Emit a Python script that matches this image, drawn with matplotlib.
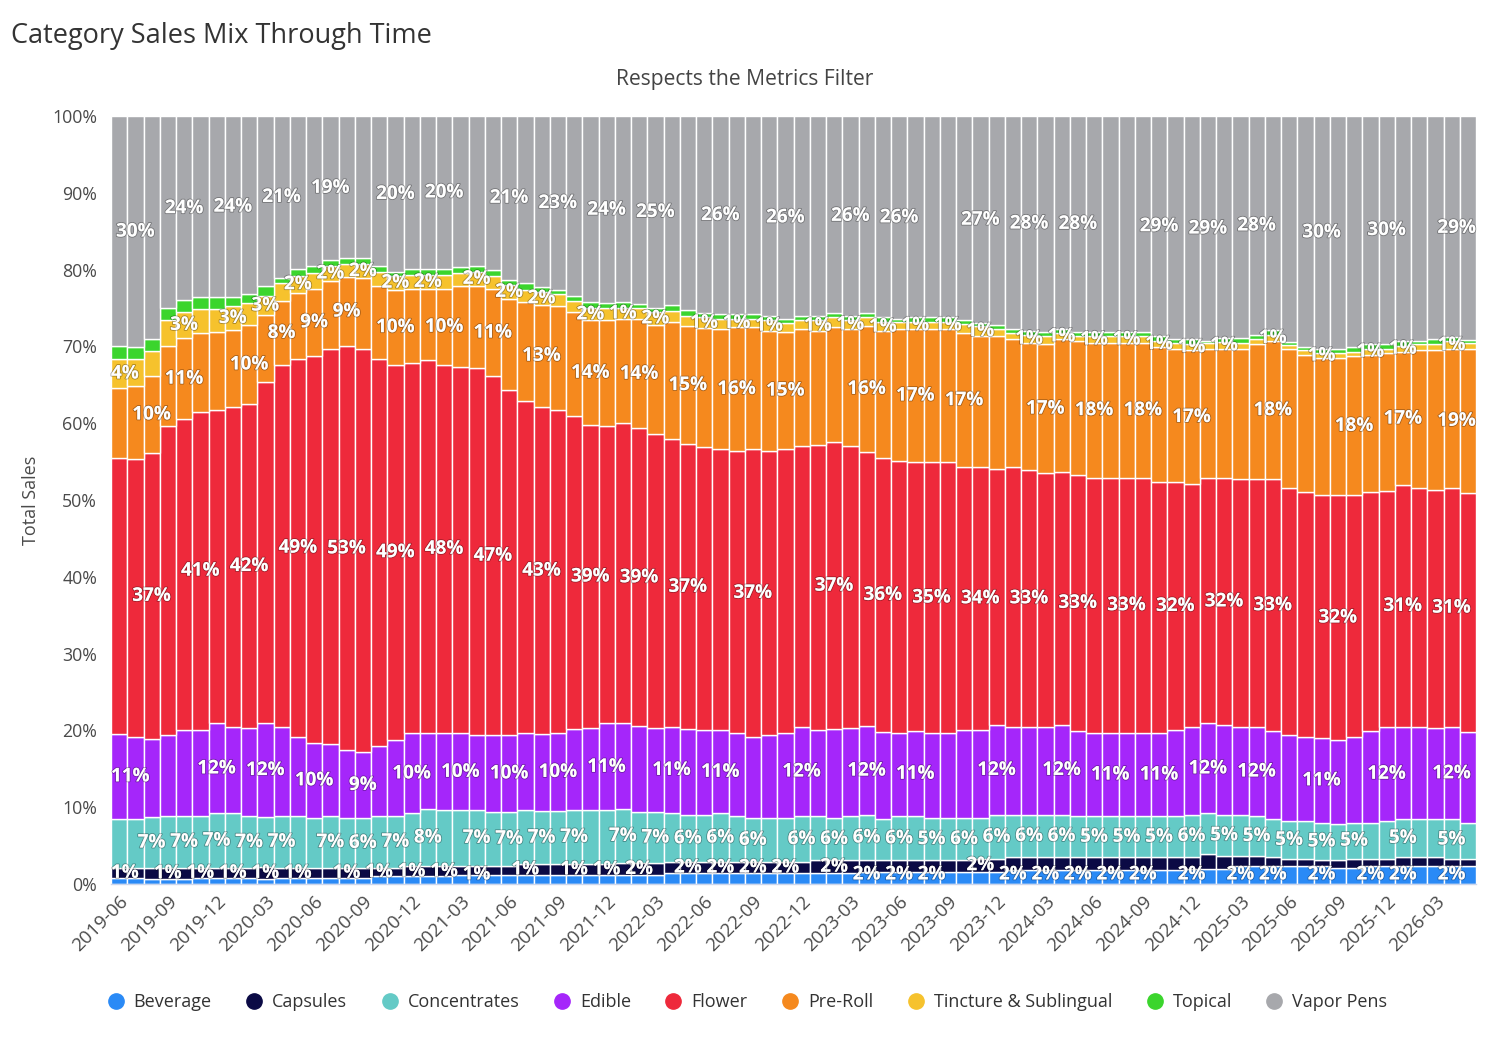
import numpy as np
import pandas as pd
import matplotlib
matplotlib.use("Agg")
import matplotlib.pyplot as plt
import matplotlib.patheffects as pe
from matplotlib.lines import Line2D

plt.rcParams['font.family'] = ['Open Sans', 'DejaVu Sans']

months = pd.period_range('2019-06', periods=84, freq='M').strftime('%Y-%m').tolist()

beverage = [
    0.8, 0.8, 0.7, 0.7, 0.7, 0.8, 0.8, 0.8, 0.8, 0.7,
    0.8, 0.8, 0.8, 0.8, 0.8, 0.8, 1.0, 1.0, 1.0, 1.0,
    1.0, 1.2, 1.2, 1.2, 1.2, 1.2, 1.2, 1.2, 1.2, 1.2,
    1.2, 1.2, 1.2, 1.2, 1.4, 1.4, 1.4, 1.4, 1.4, 1.4,
    1.4, 1.4, 1.4, 1.4, 1.4, 1.4, 1.6, 1.6, 1.6, 1.6,
    1.6, 1.6, 1.6, 1.6, 1.6, 1.8, 1.8, 1.8, 1.8, 1.8,
    1.8, 1.8, 1.8, 1.8, 1.8, 1.8, 2.0, 2.0, 2.0, 2.3,
    2.3, 2.3, 2.3, 2.3, 2.3, 2.1, 2.1, 2.3, 2.3, 2.4,
    2.4, 2.4, 2.4, 2.4]
capsules = [
    1.3, 1.3, 1.4, 1.4, 1.4, 1.3, 1.3, 1.3, 1.3, 1.5,
    1.3, 1.3, 1.3, 1.3, 1.3, 1.3, 1.1, 1.1, 1.3, 1.3,
    1.3, 1.2, 1.2, 1.2, 1.2, 1.4, 1.4, 1.4, 1.4, 1.4,
    1.4, 1.5, 1.5, 1.5, 1.5, 1.5, 1.5, 1.5, 1.5, 1.5,
    1.5, 1.5, 1.5, 1.7, 1.7, 1.7, 1.5, 1.5, 1.5, 1.5,
    1.5, 1.5, 1.5, 1.7, 1.7, 1.7, 1.7, 1.7, 1.7, 1.7,
    1.7, 1.7, 1.7, 1.7, 1.7, 1.7, 1.5, 1.9, 1.7, 1.4,
    1.4, 1.2, 1.0, 1.0, 0.8, 1.0, 1.2, 1.0, 1.0, 1.1,
    1.1, 1.1, 0.8, 0.8]
concentrates = [
    6.4, 6.4, 6.6, 6.7, 6.8, 6.8, 7.1, 7.1, 6.7, 6.5,
    6.8, 6.8, 6.5, 6.7, 6.5, 6.5, 6.7, 6.8, 6.9, 7.5,
    7.3, 7.2, 7.2, 7.0, 7.0, 7.0, 6.9, 6.9, 7.0, 7.0,
    7.0, 7.1, 6.7, 6.7, 6.3, 6.1, 6.1, 6.3, 5.9, 5.7,
    5.7, 5.7, 5.9, 5.7, 5.5, 5.7, 5.9, 5.4, 5.7, 5.7,
    5.5, 5.5, 5.5, 5.3, 5.7, 5.5, 5.5, 5.5, 5.5, 5.3,
    5.3, 5.3, 5.3, 5.3, 5.3, 5.3, 5.5, 5.3, 5.3, 5.3,
    5.1, 5.0, 4.9, 4.9, 4.9, 4.7, 4.7, 4.7, 4.9, 5.0,
    5.0, 5.0, 5.2, 4.7]
edible = [
    11.0, 10.7, 10.2, 10.6, 11.2, 11.2, 11.7, 11.3, 11.5, 12.3,
    11.6, 10.3, 9.8, 9.4, 8.8, 8.6, 9.2, 9.9, 10.4, 9.9,
    10.1, 10.0, 9.8, 10.0, 10.0, 10.1, 10.0, 10.2, 10.5, 10.7,
    11.3, 11.1, 11.1, 10.9, 11.3, 11.1, 11.0, 10.8, 10.8, 10.6,
    10.8, 11.1, 11.7, 11.3, 11.5, 11.5, 11.5, 11.3, 10.9, 11.1,
    11.1, 11.1, 11.5, 11.5, 11.7, 11.5, 11.5, 11.5, 11.7, 11.1,
    10.9, 10.9, 10.9, 10.9, 10.9, 11.3, 11.5, 11.7, 11.7, 11.5,
    11.7, 11.4, 11.2, 11.0, 11.0, 11.0, 11.2, 11.9, 12.3, 12.0,
    12.0, 11.8, 12.0, 11.9]
flower = [
    35.9, 36.1, 37.3, 40.2, 40.4, 41.4, 40.8, 41.6, 42.2, 44.4,
    47.1, 49.2, 50.4, 51.4, 52.6, 52.5, 50.4, 48.8, 48.2, 48.5,
    47.9, 47.7, 47.8, 46.7, 44.9, 43.2, 42.7, 42.1, 40.7, 39.4,
    38.7, 39.1, 38.7, 38.3, 37.5, 37.1, 36.8, 36.6, 36.8, 37.4,
    37.0, 36.9, 36.5, 37.1, 37.4, 36.7, 35.7, 35.6, 35.4, 35.0,
    35.2, 35.2, 34.2, 34.2, 33.4, 33.8, 33.4, 33.0, 33.0, 33.4,
    33.2, 33.2, 33.2, 33.2, 32.6, 32.2, 31.6, 32.0, 32.2, 32.2,
    32.2, 32.8, 32.2, 31.8, 31.6, 31.8, 31.4, 31.1, 30.7, 31.4,
    31.1, 31.0, 31.1, 31.1]
pre_roll = [
    9.1, 9.5, 10.0, 10.4, 10.6, 10.2, 10.2, 10.0, 10.3, 8.7,
    8.3, 8.6, 8.7, 8.9, 9.1, 9.2, 9.5, 9.8, 9.7, 9.3,
    9.9, 10.5, 10.7, 11.4, 11.9, 12.9, 13.3, 13.5, 13.5, 13.6,
    13.8, 13.6, 14.2, 14.2, 15.2, 15.4, 15.5, 15.7, 16.1, 15.9,
    15.6, 15.3, 15.3, 14.8, 14.9, 15.3, 16.4, 16.5, 17.2, 17.4,
    17.4, 17.4, 17.4, 17.0, 17.2, 16.6, 16.6, 16.8, 17.2, 17.4,
    17.6, 17.6, 17.6, 17.6, 17.6, 17.4, 17.4, 16.8, 16.8, 17.0,
    17.6, 18.0, 18.0, 17.9, 17.9, 17.9, 18.1, 17.9, 17.9, 17.4,
    17.9, 18.2, 18.1, 18.7]
tincture = [
    3.8, 3.6, 3.3, 3.3, 3.4, 3.2, 3.0, 3.2, 2.8, 2.6,
    2.3, 2.2, 2.1, 2.0, 1.6, 1.8, 1.8, 1.8, 1.8, 1.8,
    1.8, 1.8, 1.8, 1.7, 1.8, 1.6, 1.7, 1.6, 1.4, 1.6,
    1.6, 1.4, 1.4, 1.7, 1.4, 1.3, 1.4, 1.3, 1.1, 1.1,
    1.4, 1.1, 1.1, 1.4, 1.3, 1.1, 1.1, 1.2, 0.9, 0.9,
    0.9, 0.9, 1.2, 1.4, 1.0, 0.8, 1.0, 1.0, 0.8, 0.6,
    0.8, 0.8, 0.8, 0.8, 0.8, 0.8, 0.8, 0.7, 0.9, 0.8,
    0.6, 0.8, 0.6, 0.6, 0.6, 0.6, 0.6, 0.8, 0.6, 0.8,
    0.8, 0.8, 1.0, 0.8]
topical = [
    1.7, 1.5, 1.5, 1.6, 1.5, 1.5, 1.5, 1.1, 1.2, 1.2,
    0.7, 0.9, 0.9, 0.8, 0.8, 0.8, 0.8, 0.5, 0.8, 0.8,
    0.8, 0.7, 0.8, 0.7, 0.7, 0.8, 0.6, 0.5, 0.6, 0.8,
    0.6, 0.8, 0.6, 0.5, 0.8, 0.8, 0.6, 0.6, 0.6, 0.6,
    0.6, 0.6, 0.6, 0.6, 0.6, 0.6, 0.6, 0.6, 0.4, 0.6,
    0.6, 0.6, 0.5, 0.3, 0.5, 0.6, 0.5, 0.6, 0.6, 0.6,
    0.6, 0.6, 0.6, 0.6, 0.6, 0.5, 0.6, 0.3, 0.5, 0.6,
    0.6, 0.6, 0.4, 0.4, 0.6, 0.6, 0.6, 0.6, 0.6, 0.6,
    0.4, 0.6, 0.6, 0.4]
vapor_pens = [
    29.9, 30.1, 29.1, 25.0, 24.0, 23.6, 23.6, 23.6, 23.2, 22.2,
    21.1, 19.9, 19.5, 18.7, 18.5, 18.5, 19.5, 20.3, 19.9, 19.9,
    19.9, 19.7, 19.5, 20.1, 21.3, 21.8, 22.3, 22.7, 23.4, 24.2,
    24.4, 24.2, 24.4, 25.0, 24.6, 25.2, 25.6, 25.8, 25.8, 25.8,
    26.0, 26.4, 26.0, 26.0, 25.6, 26.0, 25.6, 26.2, 26.4, 26.2,
    26.2, 26.2, 26.6, 27.0, 27.2, 27.7, 28.0, 28.1, 27.7, 28.1,
    28.1, 28.1, 28.1, 28.1, 28.7, 29.0, 29.1, 29.3, 28.9, 28.9,
    28.5, 27.9, 29.4, 30.1, 30.3, 30.3, 30.1, 29.7, 29.7, 29.3,
    29.3, 29.1, 28.7, 29.1]

categories = ['Beverage', 'Capsules', 'Concentrates', 'Edible', 'Flower',
              'Pre-Roll', 'Tincture & Sublingual', 'Topical', 'Vapor Pens']
series = [beverage, capsules, concentrates, edible, flower, pre_roll,
          tincture, topical, vapor_pens]
colors = ['#2a8af6', '#0b0a45', '#64cac6', '#a526fa', '#ee293b',
          '#f5891e', '#f6c22d', '#3bd52d', '#a7a8ac']
show_labels = [True, True, True, True, True, True, True, False, True]

W, H = 1486, 1037
fig = plt.figure(figsize=(W / 100, H / 100), dpi=100)
L, R, T, B = 111, 1476, 116, 884
ax = fig.add_axes([L / W, 1 - B / H, (R - L) / W, (B - T) / H])

vals = np.array(series, dtype=float)
shares = vals / vals.sum(axis=0) * 100.0
x = np.arange(len(months))
bottom = np.zeros(len(months))

labels = []
min_center = 1.25
for k, (name, col) in enumerate(zip(categories, colors)):
    v = shares[k]
    ax.bar(x, v, width=1.0, bottom=bottom, color=col, edgecolor='white',
           linewidth=1.0, zorder=2)
    if show_labels[k]:
        for i in range(len(x)):
            yc = max(bottom[i] + v[i] / 2.0, min_center)
            t = ax.text(x[i], yc, f"{v[i]:.0f}%", ha='center', va='center',
                        color='white', fontsize=13.6, fontweight='bold',
                        zorder=5,
                        path_effects=[pe.withStroke(linewidth=1.3,
                                                    foreground=(0, 0, 0, 0.3))])
            labels.append((v[i], t))
    bottom += v

ax.set_xlim(-0.5, len(months) - 0.5)
ax.set_ylim(0, 100)
ax.set_yticks(np.arange(0, 101, 10))
ax.set_yticklabels([f"{int(t)}%" for t in np.arange(0, 101, 10)])
ax.yaxis.grid(True, color='#e6e6e6', linewidth=1.0, zorder=0)
ax.set_axisbelow(True)
ax.tick_params(axis='y', length=0, pad=10, labelsize=12.8, labelcolor='#4a4a4a')
ax.tick_params(axis='x', length=0, pad=6, labelsize=13.5, labelcolor='#4a4a4a')
tick_idx = list(range(0, len(months), 3))
ax.set_xticks(tick_idx)
ax.set_xticklabels([months[i] for i in tick_idx], rotation=45, ha='right',
                   va='top', rotation_mode='anchor')
for s in ['top', 'right', 'left']:
    ax.spines[s].set_visible(False)
ax.spines['bottom'].set_color('#ccd6eb')
ax.spines['bottom'].set_linewidth(1.0)
ax.spines['bottom'].set_zorder(6)

ax.set_ylabel('Total Sales', fontsize=13, color='#4a4a4a')
ax.yaxis.set_label_coords(-0.052, 0.5)

fig.text(11 / W, 1 - 36 / H, 'Category Sales Mix Through Time', ha='left',
         va='center', fontsize=19.5, color='#333333')
fig.text(745 / W, 1 - 80 / H, 'Respects the Metrics Filter', ha='center',
         va='center', fontsize=15.2, color='#444444')

handles = [Line2D([0], [0], marker='o', linestyle='none', markersize=11,
                  markerfacecolor=c, markeredgecolor=c) for c in colors]
fig.legend(handles, categories, loc='center', bbox_to_anchor=(0.503, 1 - 1002 / H),
           ncol=len(categories), frameon=False, fontsize=13,
           handlelength=0.9, handletextpad=0.55, columnspacing=1.9,
           labelcolor='#333333')

# keep data labels inside the plot and hide overlapping ones
fig.canvas.draw()
renderer = fig.canvas.get_renderer()
axbb = ax.get_window_extent(renderer)
px_per_unit = axbb.width / len(months)
for v, t in labels:
    bb = t.get_window_extent(renderer)
    shift = 0.0
    if bb.x0 < axbb.x0:
        shift = axbb.x0 - bb.x0
    elif bb.x1 > axbb.x1:
        shift = axbb.x1 - bb.x1
    if shift:
        xx, yy = t.get_position()
        t.set_position((xx + shift / px_per_unit, yy))

padx, pady = 2, 0
order = sorted(range(len(labels)), key=lambda j: -labels[j][0])
kept = []
for j in order:
    bb = labels[j][1].get_window_extent(renderer)
    box = (bb.x0 - padx, bb.y0 - pady, bb.x1 + padx, bb.y1 + pady)
    clash = False
    for kb in kept:
        if box[0] < kb[2] and box[2] > kb[0] and box[1] < kb[3] and box[3] > kb[1]:
            clash = True
            break
    if clash:
        labels[j][1].set_visible(False)
    else:
        kept.append(box)

fig.savefig('out.png', dpi=100, facecolor='white')
